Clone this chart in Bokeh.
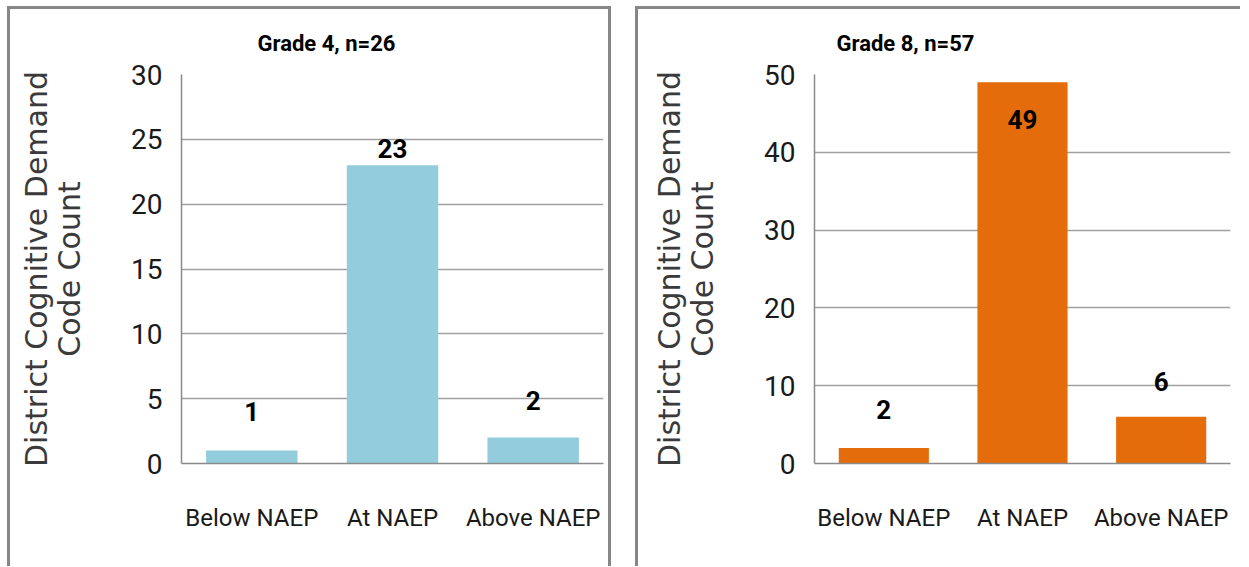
from bokeh.plotting import figure
from bokeh.models import ColumnDataSource, FactorRange, Range1d, FixedTicker, Title
from bokeh.layouts import row
from bokeh.embed import file_html
from bokeh.resources import INLINE
from bokeh.core.properties import value

categories = ["Below NAEP", "At NAEP", "Above NAEP"]
grade4_counts = [1, 23, 2]
grade8_counts = [2, 49, 6]
grade4_title = "Grade 4, n=26"
grade8_title = "Grade 8, n=57"
grade4_ticks = [0, 5, 10, 15, 20, 25, 30]
grade8_ticks = [0, 10, 20, 30, 40, 50]
y_label = "District Cognitive Demand\nCode Count"

# label pixel offsets above bar top (style only)
grade4_gap = [39, 17, 37]
grade8_gap = [38, -37, 35]

NARROW = "Roboto"
GRID = "#a0a0a0"


def make_panel(title, counts, ticks, gaps, color, width, min_left, min_right, frame_w,
               title_offset, borders):
    p = figure(x_range=FactorRange(factors=categories, range_padding=0),
               y_range=Range1d(ticks[0], ticks[-1]),
               width=width, height=557, output_backend="svg", toolbar_location=None,
               min_border_left=min_left, min_border_right=min_right,
               min_border_top=65, min_border_bottom=106,
               frame_width=frame_w, frame_height=386)
    p.styles = borders
    p.title = Title(text=title, text_font=NARROW, text_font_size="22px",
                    text_font_style="bold", text_color="#000000", align="left",
                    offset=title_offset, standoff=37)
    src = ColumnDataSource(dict(cat=categories, val=counts,
                                lab=[str(v) for v in counts],
                                dy=[-g for g in gaps]))
    p.vbar(x="cat", top="val", width=0.65, source=src, fill_color=color,
           line_color=None)
    p.text(x="cat", y="val", text="lab", y_offset="dy", source=src,
           text_align="center", text_baseline="alphabetic",
           text_font=value(NARROW), text_font_size="26px", text_font_style="bold",
           text_color="#000000")
    p.yaxis.ticker = FixedTicker(ticks=ticks)
    p.ygrid.ticker = FixedTicker(ticks=ticks)
    p.xgrid.grid_line_color = None
    p.ygrid.grid_line_color = GRID
    p.ygrid.grid_line_width = 1.5
    p.outline_line_color = None
    for ax in (p.xaxis, p.yaxis):
        ax.axis_line_color = "#8a8a8a"
        ax.axis_line_width = 1.5
        ax.major_tick_line_color = None
        ax.minor_tick_line_color = None
        ax.major_label_text_font = NARROW
        ax.major_label_text_color = "#1a1a1a"
    p.yaxis.major_label_text_font_size = "28px"
    p.yaxis.major_label_standoff = 13
    p.xaxis.major_label_text_font_size = "24px"
    p.xaxis.major_label_standoff = 34
    p.yaxis.axis_label = y_label
    p.yaxis.axis_label_text_font = "DejaVu Sans"
    p.yaxis.axis_label_text_font_style = "normal"
    p.yaxis.axis_label_text_font_size = "30px"
    p.yaxis.axis_label_text_line_height = 0.95
    p.yaxis.axis_label_text_color = "#3a3a3a"
    p.yaxis.axis_label_standoff = 41
    p.background_fill_color = "white"
    p.border_fill_color = "white"
    return p


BORDER = "3px solid #878787"
p1 = make_panel(grade4_title, grade4_counts, grade4_ticks, grade4_gap, "#93CDDD",
                598, 171, 11, 416, 76,
                {"border-top": BORDER, "border-left": BORDER, "border-right": BORDER})
p2 = make_panel(grade8_title, grade8_counts, grade8_ticks, grade8_gap, "#E46C0A",
                602, 176, 13, 413, 22,
                {"border-top": BORDER, "border-left": BORDER})

layout = row(p1, p2, spacing=24, styles={"margin-left": "7px", "margin-top": "6px"})
open("out.html", "w").write(file_html(layout, INLINE))
